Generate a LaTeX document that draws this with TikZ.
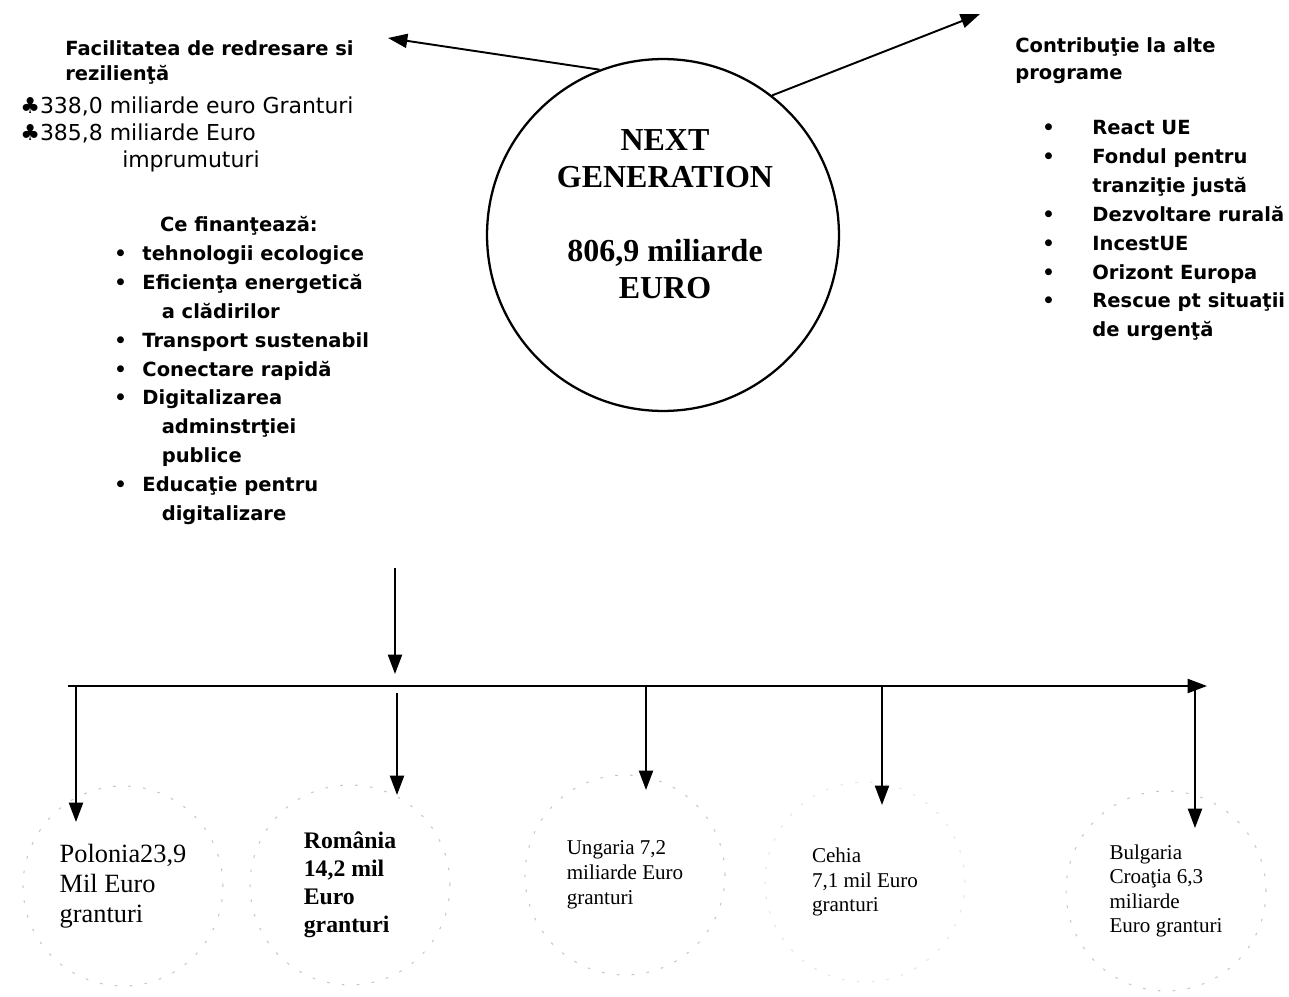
\documentclass[tikz,border=0pt]{standalone}
\usepackage{fontspec}
\setmainfont{Liberation Serif}
\newfontfamily\tahoma{DejaVu Sans}
\usetikzlibrary{arrows.meta}
\newcommand{\lbul}{\makebox[16pt][l]{•}}
\newcommand{\rbul}{\makebox[28.5pt][l]{•}}

\begin{document}
\begin{tikzpicture}[x=0.02cm, y=-0.02cm,
        every node/.style={inner sep=0pt, align=left}
    ]
    \tikzstyle {sansbox} = [anchor=north west, font=\tahoma\bfseries\fontsize{11.1}{16.45}\selectfont]
    \tikzstyle {bigcirc} = [circle, draw, line width=1.3pt, minimum size=7.04cm]
    \tikzstyle {titletext} = [align=center, font=\bfseries\fontsize{18.2}{21}\selectfont]
    \tikzstyle {country} = [circle, draw=gray!45, dash pattern=on 1.5pt off 7pt, line width=0.6pt, minimum size=4cm]
    \tikzstyle {arr} = [-{Triangle[length=11pt,width=8pt]}, line width=1.1pt]

    \useasboundingbox (0,0) rectangle (1289,997);

    % centre
    \node [bigcirc] (ng) at (663,235) {};
    \node [titletext] (ngtext) at (665,214) {NEXT\\GENERATION\\[21pt]806,9 miliarde\\EURO};

    % left side
    \node [sansbox, font=\tahoma\bfseries\fontsize{11.1}{14.2}\selectfont] (frr) at (65,40) {Facilitatea de redresare si\\rezilienţă};
    \node [sansbox, font=\tahoma\fontsize{12.5}{15.4}\selectfont] (sums) at (20,96) {♣338,0 miliarde euro Granturi\\♣385,8 miliarde Euro\\\hspace*{58pt}imprumuturi};
    \node [sansbox] (fin) at (114,216) {\hspace*{26pt}Ce finanţează:\\
        \lbul tehnologii ecologice\\
        \lbul Eficienţa energetică\\
        \hspace*{27pt}a clădirilor\\
        \lbul Transport sustenabil\\
        \lbul Conectare rapidă\\
        \lbul Digitalizarea\\
        \hspace*{27pt}adminstrţiei\\
        \hspace*{27pt}publice\\
        \lbul Educaţie pentru\\
        \hspace*{27pt}digitalizare};

    % right side
    \node [sansbox, font=\tahoma\bfseries\fontsize{11.1}{15.4}\selectfont] (contrib) at (1015,37) {Contribuţie la alte\\programe};
    \node [sansbox] (progs) at (1042,120) {\rbul React UE\\
        \rbul Fondul pentru\\
        \hspace*{28.5pt}tranziţie justă\\
        \rbul Dezvoltare rurală\\
        \rbul IncestUE\\
        \rbul Orizont Europa\\
        \rbul Rescue pt situaţii\\
        \hspace*{28.5pt}de urgenţă};

    \coordinate (lefttip) at (388,38);
    \coordinate (righttip) at (980,14);
    \draw [arr] (ng.111) -- (lefttip);
    \draw [arr] (ng.52) -- (righttip);

    % countries
    \node [country, font=\fontsize{15}{17}\selectfont] (pol) at (123,886) {Polonia23,9\\Mil Euro\\granturi};
    \node [country, font=\bfseries\fontsize{13.5}{16}\selectfont] (rom) at (350,885) {România\\14,2 mil\\Euro\\granturi};
    \node [country, font=\fontsize{12}{14.2}\selectfont] (hun) at (625,875) {Ungaria 7,2\\miliarde Euro\\granturi};
    \node [country, font=\fontsize{12}{14.2}\selectfont, draw=gray!20] (cze) at (865,882) {Cehia\\7,1 mil Euro\\granturi};
    \node [country, font=\fontsize{12}{14}\selectfont] (bgr) at (1166,891) {Bulgaria\\Croaţia 6,3\\miliarde\\Euro granturi};

    % bar
    \coordinate (listout) at (395,568);
    \coordinate (barin) at (395,674);
    \coordinate (barstart) at (68,686);
    \coordinate (barend) at (1207,686);
    \draw [arr] (listout) -- (barin);
    \draw [arr] (barstart) -- (barend);
    \foreach \x/\ys/\ye [count=\i] in {76/686/822, 397/693/795, 646/686/790, 882/686/805, 1195/686/828} {
        \coordinate (drop\i) at (\x,\ys);
        \coordinate (tip\i) at (\x,\ye);
        \draw [arr] (drop\i) -- (tip\i);
    }
\end{tikzpicture}
\end{document}
